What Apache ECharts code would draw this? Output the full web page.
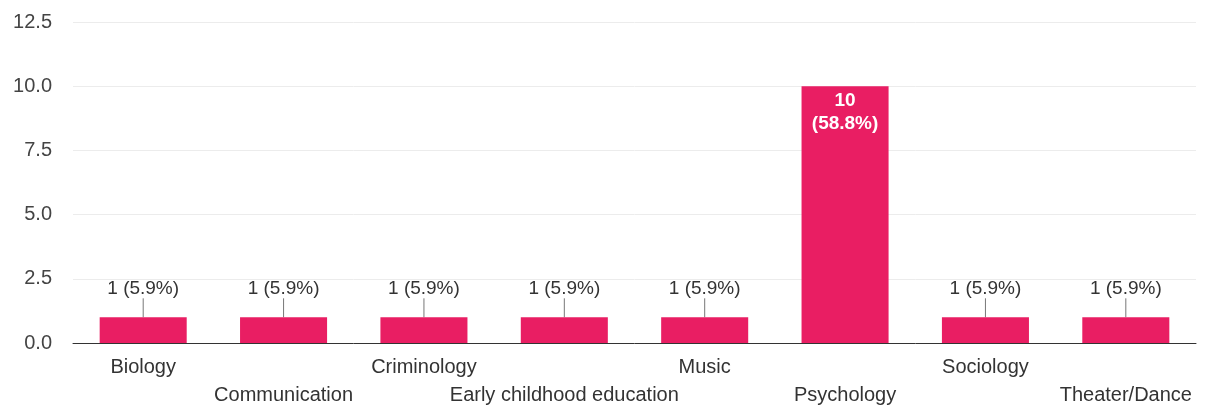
<!DOCTYPE html>
<html>
<head>
<meta charset="utf-8">
<script src="https://cdn.jsdelivr.net/npm/echarts@6/dist/echarts.min.js"></script>
<style>
  html, body { margin: 0; padding: 0; background: #fff; }
  #chart { width: 1209px; height: 411px; }
</style>
</head>
<body>
<div id="chart"></div>
<script>
// Majors and number of responses for each
const categories = ['Biology', 'Communication', 'Criminology', 'Early childhood education', 'Music', 'Psychology', 'Sociology', 'Theater/Dance'];
const counts = [1, 1, 1, 1, 1, 10, 1, 1];
const yTicks = [0, 2.5, 5, 7.5, 10, 12.5];

const total = counts.reduce((a, b) => a + b, 0);
const pct = v => (v / total * 100).toFixed(1) + '%';
const FONT = '"Liberation Sans", Arial, sans-serif';
const PINK = '#e91e63';

const chart = echarts.init(document.getElementById('chart'));

// Tall bars carry their label inside; short bars get it above with a leader line
const seriesData = counts.map(v => {
  if (v >= 5) {
    return {
      value: v,
      label: {
        show: true, position: 'insideTop', distance: 3,
        color: '#fff', fontSize: 19, fontWeight: 'bold', lineHeight: 23,
        fontFamily: FONT,
        formatter: p => p.value + '\n(' + pct(p.value) + ')'
      }
    };
  }
  return { value: v };
});

chart.setOption({
  animation: false,
  grid: { left: 73, right: 13, top: 22, bottom: 68, outerBoundsMode: 'none', containLabel: false },
  xAxis: {
    type: 'category',
    data: categories,
    axisLine: { lineStyle: { color: '#333', width: 1 } },
    axisTick: { show: false },
    axisLabel: {
      interval: 0,
      margin: 10,
      color: '#333',
      fontSize: 20,
      fontFamily: FONT,
      lineHeight: 28,
      formatter: (v, i) => (i % 2 === 1 ? '\n' + v : v)
    }
  },
  yAxis: {
    type: 'value',
    min: yTicks[0],
    max: yTicks[yTicks.length - 1],
    interval: 2.5,
    axisLine: { show: false },
    axisTick: { show: false },
    splitLine: { lineStyle: { color: '#ececec', width: 1 } },
    axisLabel: {
      margin: 21,
      color: '#444',
      fontSize: 20,
      fontFamily: FONT,
      formatter: v => v.toFixed(1)
    }
  },
  series: [{
    type: 'bar',
    barWidth: '62%',
    data: seriesData,
    itemStyle: { color: PINK },
    label: {
      show: true,
      position: 'top',
      distance: 2,
      color: '#333',
      fontSize: 19,
      fontFamily: FONT,
      formatter: p => p.value + ' (' + pct(p.value) + ')'
    },
    labelLayout: p => (counts[p.dataIndex] >= 5 ? {} : { dy: -17 }),
    labelLine: { show: true, lineStyle: { color: '#777', width: 1 } }
  }]
});
</script>
</body>
</html>
